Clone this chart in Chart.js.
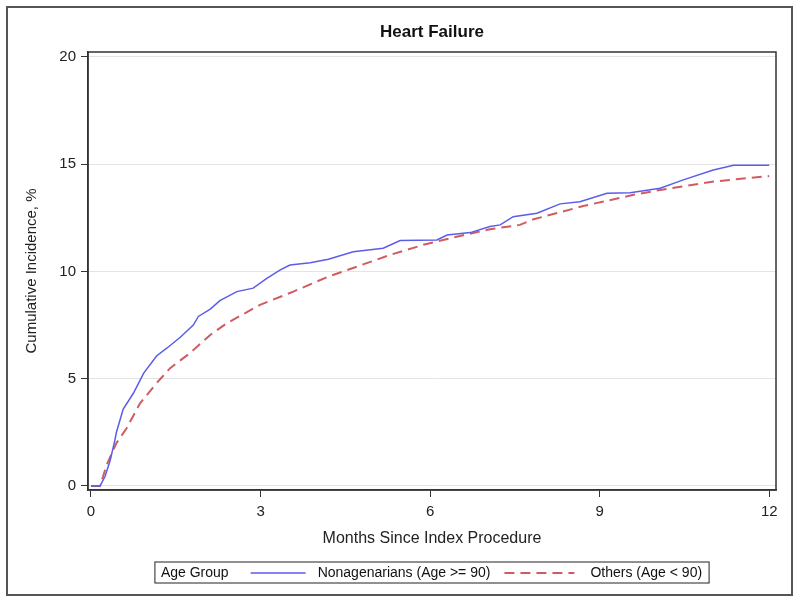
<!DOCTYPE html>
<html lang="en">
<head>
  <meta charset="UTF-8">
  <title>Heart Failure</title>
  <script src="https://cdn.jsdelivr.net/npm/chart.js"></script>
  <style>
    body { margin: 0; background: #fff; }
    .box { position: relative; width: 800px; height: 604px; }
  </style>
</head>
<body>
  <div class="box">
    <canvas id="myChart" width="800" height="604"></canvas>
  </div>

<script>
  // values (months, cumulative incidence %)
  var nonaMonths = [0, 0.16, 0.25, 0.34, 0.42, 0.45, 0.57, 0.75, 0.93, 1.16, 1.34, 1.58, 1.81, 1.9, 2.11, 2.28, 2.58, 2.87, 3.11, 3.35, 3.52, 3.88, 4.2, 4.64, 5.17, 5.47, 6.12, 6.3, 6.71, 7.06, 7.24, 7.47, 7.89, 8.3, 8.65, 9.13, 9.54, 10.07, 10.48, 11.01, 11.37, 12];
  var nonaValues = [0, 0, 0.45, 1.2, 2.1, 2.5, 3.58, 4.32, 5.25, 6.06, 6.42, 6.93, 7.5, 7.9, 8.24, 8.64, 9.06, 9.22, 9.68, 10.07, 10.3, 10.41, 10.57, 10.92, 11.08, 11.44, 11.47, 11.7, 11.81, 12.09, 12.17, 12.55, 12.71, 13.15, 13.25, 13.64, 13.67, 13.88, 14.27, 14.73, 14.95, 14.95];

  var othersMonths = [0, 0.16, 0.28, 0.45, 0.63, 0.87, 1.16, 1.4, 1.75, 2.11, 2.4, 2.99, 3.58, 4.2, 4.7, 5.29, 5.88, 6.47, 7.06, 7.59, 7.83, 8.71, 9.6, 10.07, 11.02, 12];
  var othersValues = [0, 0, 1.0, 2.0, 2.69, 3.86, 4.79, 5.49, 6.19, 7.04, 7.58, 8.44, 9.06, 9.76, 10.22, 10.77, 11.24, 11.62, 11.97, 12.17, 12.43, 13.05, 13.57, 13.8, 14.19, 14.45];

  var xTicks = [0, 3, 6, 9, 12];
  var yTicks = [0, 5, 10, 15, 20];

  var seriesLabels = ['Nonagenarians (Age >= 90)', 'Others (Age < 90)'];
  var legendTitle = 'Age Group';
  var chartTitle = 'Heart Failure';

  function toPoints(xs, ys) {
    var pts = [];
    for (var i = 0; i < xs.length; i++) {
      pts.push({ x: xs[i], y: ys[i] });
    }
    return pts;
  }

  var FONT = "'Liberation Sans', Arial, sans-serif";

  // frame, title and the boxed legend at the bottom
  var decoPlugin = {
    id: 'deco',
    afterDraw: function (chart) {
      var ctx = chart.ctx;
      var a = chart.chartArea;
      ctx.save();

      // outer frame
      ctx.strokeStyle = '#555';
      ctx.lineWidth = 2;
      ctx.strokeRect(7, 7, 785, 588);

      // plot frame
      ctx.strokeStyle = '#333';
      ctx.lineWidth = 1.5;
      ctx.strokeRect(a.left, a.top, a.right - a.left, a.bottom - a.top);

      var cx = (a.left + a.right) / 2;

      // title
      ctx.fillStyle = '#111';
      ctx.font = 'bold 17px ' + FONT;
      ctx.textAlign = 'center';
      ctx.textBaseline = 'middle';
      ctx.fillText(chartTitle, cx, 32);

      // legend
      ctx.font = '14px ' + FONT;
      ctx.textAlign = 'left';
      var samples = [55, 70];
      var w0 = ctx.measureText(legendTitle).width;
      var w1 = ctx.measureText(seriesLabels[0]).width;
      var w2 = ctx.measureText(seriesLabels[1]).width;
      var total = 6 + w0 + 22 + samples[0] + 12 + w1 + 14 + samples[1] + 16 + w2 + 7;
      var bx = cx - total / 2;
      var by = 562, bh = 21, my = by + bh / 2 + 0.5;
      ctx.strokeStyle = '#222';
      ctx.lineWidth = 1;
      ctx.strokeRect(bx, by, total, bh);

      var x = bx + 6;
      ctx.fillStyle = '#111';
      ctx.fillText(legendTitle, x, my);
      x += w0 + 22;

      var ds = chart.data.datasets;
      var gaps = [14, 7];
      var widths = [w1, w2];
      for (var i = 0; i < ds.length; i++) {
        ctx.beginPath();
        ctx.strokeStyle = ds[i].borderColor;
        ctx.lineWidth = ds[i].borderWidth;
        ctx.setLineDash(ds[i].borderDash || []);
        ctx.moveTo(x, my);
        ctx.lineTo(x + samples[i], my);
        ctx.stroke();
        ctx.setLineDash([]);
        x += samples[i] + (i == 0 ? 12 : 16);
        ctx.fillStyle = '#111';
        ctx.fillText(seriesLabels[i], x, my);
        x += widths[i] + gaps[i];
      }
      ctx.restore();
    }
  };

  const ctxHF = document.getElementById('myChart');

  const meuGrafico = new Chart(ctxHF, {
    type: 'line',
    data: {
      datasets: [{
        label: seriesLabels[0],
        data: toPoints(nonaMonths, nonaValues),
        borderColor: 'rgb(92, 92, 235)',
        borderWidth: 1.5,
        pointRadius: 0,
        tension: 0,
        fill: false
      }, {
        label: seriesLabels[1],
        data: toPoints(othersMonths, othersValues),
        borderColor: 'rgb(208, 92, 96)',
        borderWidth: 2,
        borderDash: [10, 6],
        pointRadius: 0,
        tension: 0,
        fill: false
      }]
    },
    options: {
      responsive: false,
      animation: false,
      layout: {
        padding: { left: 8, right: 24, top: 52, bottom: 8 }
      },
      plugins: {
        legend: { display: false },
        title: { display: false },
        tooltip: { enabled: false }
      },
      scales: {
        x: {
          type: 'linear',
          min: -0.053,
          max: 12.12,
          afterBuildTicks: function (scale) {
            scale.ticks = xTicks.map(function (v) { return { value: v }; });
          },
          afterFit: function (scale) { scale.height = 106; },
          grid: {
            drawOnChartArea: false,
            drawTicks: true,
            tickLength: 7,
            tickColor: '#333'
          },
          border: { color: '#333', width: 1.5 },
          ticks: {
            color: '#222',
            padding: 6,
            maxRotation: 0,
            font: { family: FONT, size: 15 }
          },
          title: {
            display: true,
            text: 'Months Since Index Procedure',
            color: '#222',
            font: { family: FONT, size: 16 },
            padding: { top: 0, bottom: 48 }
          }
        },
        y: {
          min: -0.19,
          max: 20.23,
          afterBuildTicks: function (scale) {
            scale.ticks = yTicks.map(function (v) { return { value: v }; });
          },
          afterFit: function (scale) { scale.width = 80; },
          grid: {
            color: '#e4e4e4',
            lineWidth: 1,
            drawTicks: true,
            tickLength: 7,
            tickColor: '#333'
          },
          border: { color: '#333', width: 1.5 },
          ticks: {
            color: '#222',
            padding: 5,
            font: { family: FONT, size: 15 }
          },
          title: {
            display: true,
            text: 'Cumulative Incidence, %',
            color: '#222',
            font: { family: FONT, size: 15 },
            padding: { top: 15, bottom: 0 }
          }
        }
      }
    },
    plugins: [decoPlugin]
  });
</script>
</body>
</html>
